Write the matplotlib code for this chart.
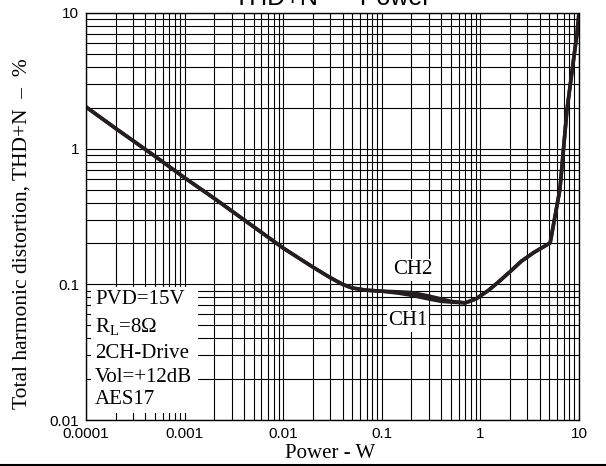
import matplotlib
matplotlib.use("Agg")
import matplotlib.pyplot as plt
from matplotlib.patches import Rectangle
from matplotlib.lines import Line2D
from matplotlib.ticker import LogLocator, FixedLocator, NullFormatter

# ---- data ----
power_common_lo = [0.0001, 0.0002, 0.0005, 0.001, 0.002, 0.005, 0.01, 0.02, 0.03, 0.04, 0.05, 0.07, 0.1]
thd_common_lo = [2.03, 1.41, 0.88, 0.61, 0.43, 0.266, 0.185, 0.134, 0.112, 0.100, 0.094, 0.0905, 0.089]

power_mid = [0.15, 0.2, 0.3, 0.4, 0.5]
thd_ch1_mid = [0.086, 0.083, 0.078, 0.075, 0.074]
thd_ch2_mid = [0.088, 0.087, 0.082, 0.078, 0.075]

power_common_hi = [0.7, 0.9, 1.2, 1.5, 2.0, 2.6, 3.5, 5.1, 6.4, 7.55, 9.55, 10.0]
thd_common_hi = [0.073, 0.078, 0.090, 0.103, 0.124, 0.148, 0.172, 0.202, 0.50, 1.93, 7.1, 10.0]

x_ticks = [0.0001, 0.001, 0.01, 0.1, 1, 10]
x_ticklabels = ["0.0001", "0.001", "0.01", "0.1", "1", "10"]
y_ticks = [0.01, 0.1, 1, 10]
y_ticklabels = ["0.01", "0.1", "1", "10"]

conditions = ["PVD=15V", r"R$_\mathregular{L}$=8Ω", "2CH-Drive", "Vol=+12dB", "AES17"]

power_ch1 = power_common_lo + power_mid + power_common_hi
thd_ch1 = thd_common_lo + thd_ch1_mid + thd_common_hi
power_ch2 = power_common_lo + power_mid + power_common_hi
thd_ch2 = thd_common_lo + thd_ch2_mid + thd_common_hi

W, H = 606, 466
fig = plt.figure(figsize=(W / 100, H / 100), dpi=100)
L, R, T, B = 86, 579, 13, 420
ax = fig.add_axes([L / W, 1 - B / H, (R - L) / W, (B - T) / H])

ax.set_xscale("log")
ax.set_yscale("log")
ax.set_xlim(0.0001, 10)
ax.set_ylim(0.01, 10)

ax.xaxis.set_major_locator(FixedLocator(x_ticks))
ax.yaxis.set_major_locator(FixedLocator(y_ticks))
ax.xaxis.set_minor_locator(LogLocator(base=10, subs=range(2, 10)))
ax.yaxis.set_minor_locator(LogLocator(base=10, subs=range(2, 10)))
ax.xaxis.set_minor_formatter(NullFormatter())
ax.yaxis.set_minor_formatter(NullFormatter())
ax.set_xticklabels(x_ticklabels, fontfamily="Liberation Sans", fontsize=11)
ax.set_yticklabels(y_ticklabels, fontfamily="Liberation Sans", fontsize=11)
ax.tick_params(which="both", length=0, pad=5)

ax.grid(True, which="both", color="black", linewidth=0.8)
for s in ax.spines.values():
    s.set_linewidth(1.0)
    s.set_zorder(5)

ax.plot(power_ch1, thd_ch1, color="#231f20", linewidth=2.6, zorder=4, solid_joinstyle="round")
ax.plot(power_ch2, thd_ch2, color="#231f20", linewidth=2.6, zorder=4, solid_joinstyle="round")

# white box for conditions (in pixel-derived axes coordinates)
bx0, bx1, by0, by1 = 91, 198, 287, 413
ax.add_patch(Rectangle(((bx0 - L) / (R - L), (B - by1) / (B - T)),
                       (bx1 - bx0) / (R - L), (by1 - by0) / (B - T),
                       transform=ax.transAxes, facecolor="white", edgecolor="none", zorder=3))
line_ys = [300, 327, 353, 378, 400]
for txt, yy in zip(conditions, line_ys):
    ax.text((95 - L) / (R - L), (B - yy) / (B - T), txt, transform=ax.transAxes,
            fontfamily="Liberation Serif", fontsize=15, va="center", ha="left", zorder=4)

ax.text(0.207, 0.128, "CH2", fontfamily="Liberation Serif", fontsize=15, ha="center", va="center",
        zorder=4, bbox=dict(facecolor="white", edgecolor="none", pad=1))
ax.text(0.185, 0.0537, "CH1", fontfamily="Liberation Serif", fontsize=15, ha="center", va="center",
        zorder=4, bbox=dict(facecolor="white", edgecolor="none", pad=1))

# labels
fig.text(330 / W, 1 - 453 / H, "Power - W", fontfamily="Liberation Serif", fontsize=15,
         ha="center", va="center")
fig.text(22 / W, 1 - 234 / H, "Total harmonic distortion, THD+N  \u2013  %", fontfamily="Liberation Serif",
         fontsize=15.5, ha="center", va="center", rotation=90)
fig.text(332 / W, 1 - 5 / H, "THD+N  \u2013  Power", fontfamily="Liberation Sans", fontsize=18,
         ha="center", va="baseline")

fig.add_artist(Line2D([0, 1], [1.5 / H, 1.5 / H], color="black", linewidth=2.2, transform=fig.transFigure))

fig.savefig("out.png", dpi=100)
